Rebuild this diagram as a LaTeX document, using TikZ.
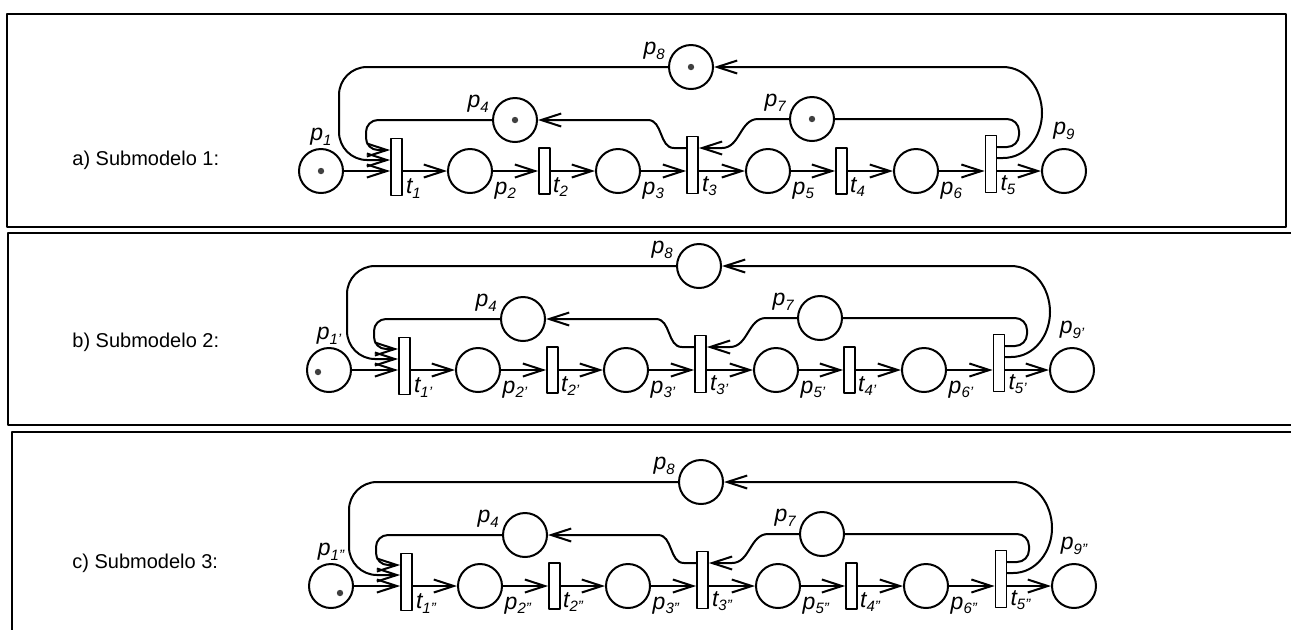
\documentclass[tikz,border=0pt]{standalone}
\usepackage{fontspec}
\setmainfont{Liberation Sans}
\usetikzlibrary{arrows.meta, positioning}
\newcommand{\pl}[2]{{\fontsize{11.5}{12}\selectfont\itshape #1\raisebox{-2.2pt}{\fontsize{7.5}{8}\selectfont #2}}}
\tikzset{every path/.style={line cap=round, line join=round}, >={Straight Barb[length=10pt, width=6.5pt]},
  place/.style={draw, circle, line width=1pt, minimum size=22pt, inner sep=0pt},
  bigtrans/.style={draw, fill=white, line width=0.9pt, minimum width=5.5pt, minimum height=28.5pt, inner sep=0pt},
  smalltrans/.style={bigtrans, minimum height=23pt},
  lbl/.style={inner sep=0pt},
  plbl/.style={lbl, anchor=north west, xshift=2pt},
  tlbl/.style={lbl, anchor=south west, xshift=2pt, yshift=-1pt},
  ulbl/.style={lbl, anchor=south east, xshift=-2pt},
  flow/.style={->, line width=1pt},
  panel/.style={line width=0.8pt},
  tokendot/.style={fill=black!75}}

\begin{document}
\begin{tikzpicture}[x=0.5pt, y=-0.5pt]
    \useasboundingbox (0,0) rectangle (1291,629);
    \draw [panel] (7,14) rectangle (1286,227);
    \draw [panel] (8,233) rectangle (1300,425);
    \draw [panel] (12,432) rectangle (1300,660);
    \foreach \pan/\dx/\yo/\sfx/\num/\ly in {a/0/171//1/160, b/8/370/'/2/342, c/10/586/''/3/563} {
        \node [anchor=west, inner sep=0pt, font=\fontsize{10}{12}\selectfont] (\pan-title) at (72,\ly) {\pan) Submodelo \num:};
        \begin{scope}[shift={(\dx,\yo)}]
            % main line
            \node [place, label={[lbl, label distance=1pt]90:\pl{p}{1\sfx}}] (\pan-p1) at (321,0) {};
            \node [bigtrans, label={[tlbl]-80:\pl{t}{1\sfx}}] (\pan-t1) at (396.5,-4) {};
            \node [place, label={[plbl]-28:\pl{p}{2\sfx}}] (\pan-p2) at (470,0) {};
            \node [smalltrans, label={[tlbl]-80:\pl{t}{2\sfx}}] (\pan-t2) at (544.5,0) {};
            \node [place, label={[plbl]-28:\pl{p}{3\sfx}}] (\pan-p3) at (618,0) {};
            \node [bigtrans, label={[tlbl]-80:\pl{t}{3\sfx}}] (\pan-t3) at (692.5,-6) {};
            \node [place, label={[plbl]-28:\pl{p}{5\sfx}}] (\pan-p5) at (768,0) {};
            \node [smalltrans, label={[tlbl]-80:\pl{t}{4\sfx}}] (\pan-t4) at (841.5,0) {};
            \node [place, label={[plbl]-28:\pl{p}{6\sfx}}] (\pan-p6) at (916,0) {};
            \node [bigtrans, label={[tlbl]-80:\pl{t}{5\sfx}}] (\pan-t5) at (991,-7) {};
            \node [place, label={[lbl, label distance=4pt]90:\pl{p}{9\sfx}}] (\pan-p9) at (1064,0) {};
            % shared places
            \node [place, label={[ulbl]162:\pl{p}{4}}] (\pan-p4) at (515,-51) {};
            \node [place, label={[ulbl]162:\pl{p}{7}}] (\pan-p7) at (812,-52) {};
            \node [place, label={[ulbl]162:\pl{p}{8}}] (\pan-p8) at (691,-104) {};

            \draw [flow] (\pan-p1) -- (\pan-t1.west |- \pan-p1);
            \draw [flow] (\pan-t1.east |- \pan-p2) -- (\pan-p2);
            \draw [flow] (\pan-p2) -- (\pan-t2);
            \draw [flow] (\pan-t2) -- (\pan-p3);
            \draw [flow] (\pan-p3) -- (\pan-t3.west |- \pan-p3);
            \draw [flow] (\pan-t3.east |- \pan-p5) -- (\pan-p5);
            \draw [flow] (\pan-p5) -- (\pan-t4);
            \draw [flow] (\pan-t4) -- (\pan-p6);
            \draw [flow] (\pan-p6) -- (\pan-t5.west |- \pan-p6);
            \draw [flow] (\pan-t5.east |- \pan-p9) -- (\pan-p9);

            % feedback arcs
            \draw [flow, rounded corners=6pt] (\pan-p4) -- (366,-51) -- (366,-21) -- (\pan-t1.west |- 0,-21);
            \draw [flow, rounded corners=14pt] (\pan-p8) -- (339,-104) -- (339,-11) -- (\pan-t1.west |- 0,-11);
            \draw [flow] (\pan-t3.west |- 0,-23) -- (674,-23) to[out=180, in=0] (648,-51) -- (\pan-p4);
            \draw [flow] (\pan-p7) -- (758,-52) to[out=180, in=0] (722,-23) -- (\pan-t3.east |- 0,-23);
            \draw [flow] (\pan-t5.east |- 0,-13) -- (1003,-13) to[out=0, in=-90] (1042,-58) to[out=90, in=0] (1003,-104) -- (\pan-p8);
            \draw [line width=1pt, rounded corners=6pt] (\pan-p7) -- (1019,-52) -- (1019,-24) -- (\pan-t5.east |- 0,-24);
        \end{scope}
    }
    % tokens
    \foreach \tok in {a-p1, a-p4, a-p7, a-p8}
        \fill [tokendot] (\tok) circle (1.6pt);
    \fill [tokendot] ([shift={(-11,2)}]b-p1.center) circle (1.6pt);
    \fill [tokendot] ([shift={(9,7)}]c-p1.center) circle (1.6pt);
\end{tikzpicture}
\end{document}
